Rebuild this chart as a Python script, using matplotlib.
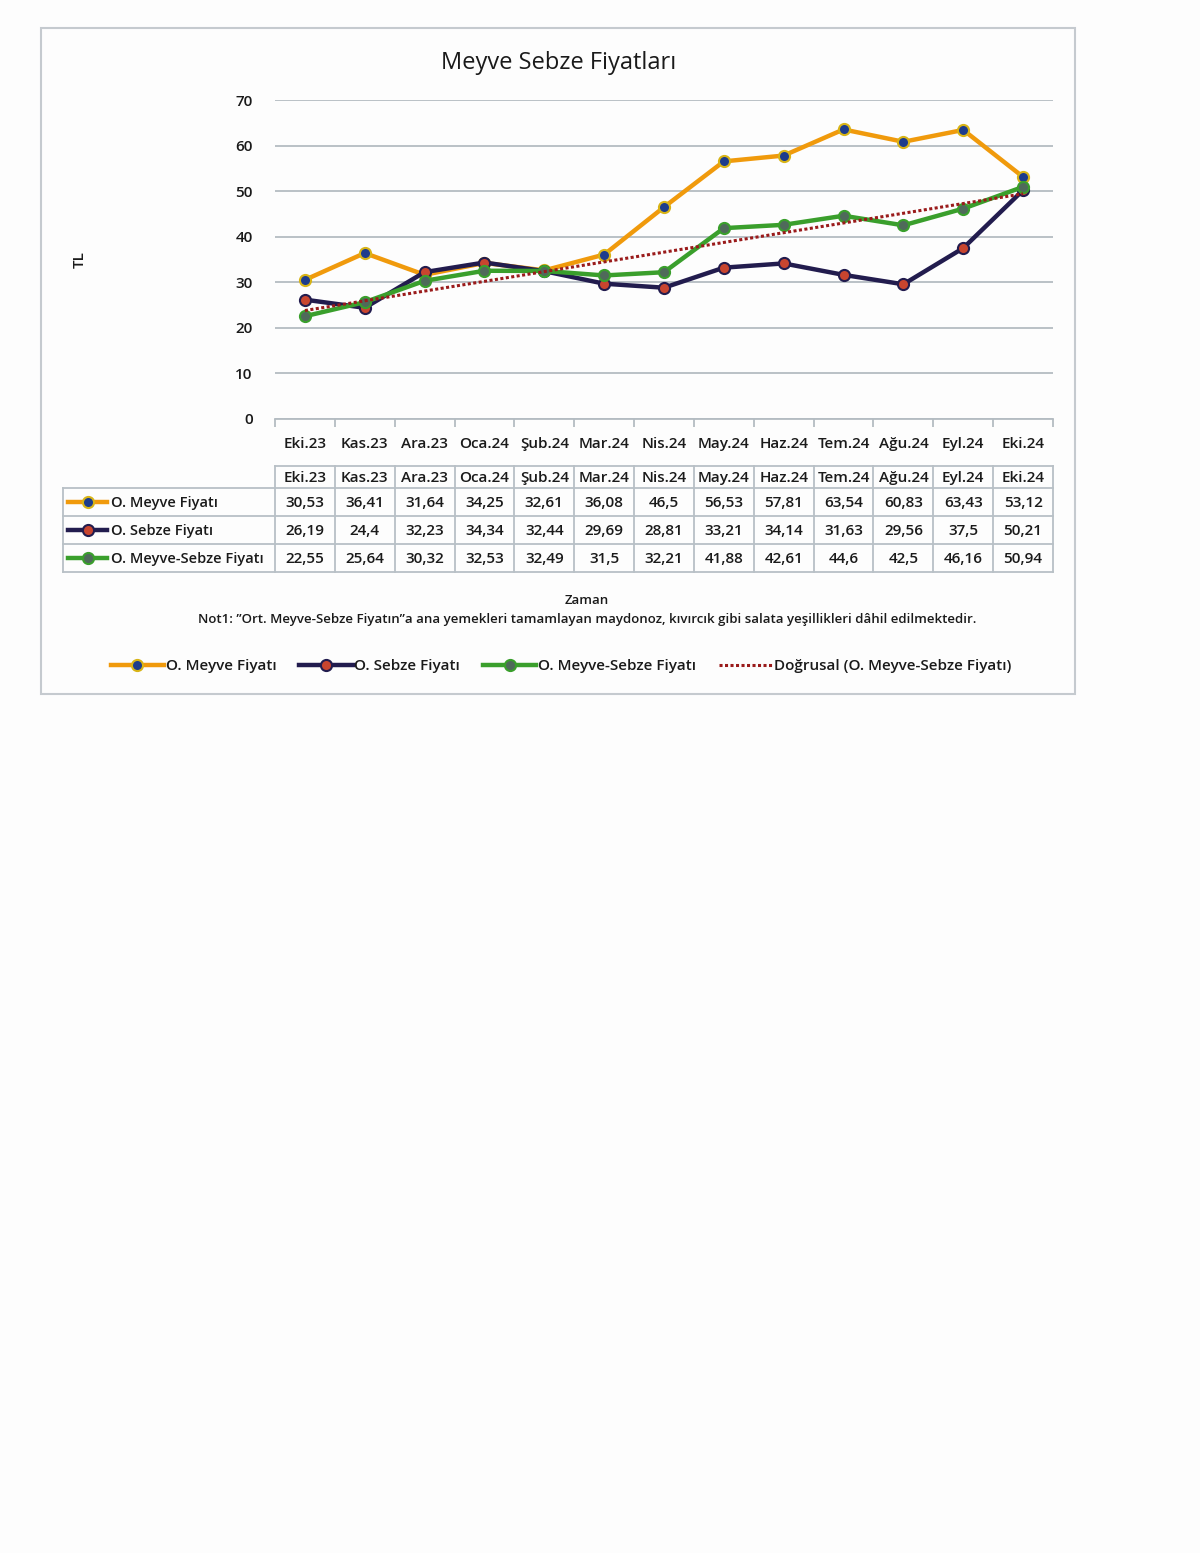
import numpy as np
import matplotlib
matplotlib.use("Agg")
import matplotlib.pyplot as plt
from matplotlib.lines import Line2D
from matplotlib.patches import Rectangle

# ---- data -------------------------------------------------------------
months = ["Eki.23", "Kas.23", "Ara.23", "Oca.24", "Şub.24", "Mar.24", "Nis.24",
          "May.24", "Haz.24", "Tem.24", "Ağu.24", "Eyl.24", "Eki.24"]
meyve = [30.53, 36.41, 31.64, 34.25, 32.61, 36.08, 46.5, 56.53, 57.81, 63.54, 60.83, 63.43, 53.12]
sebze = [26.19, 24.4, 32.23, 34.34, 32.44, 29.69, 28.81, 33.21, 34.14, 31.63, 29.56, 37.5, 50.21]
meyve_sebze = [22.55, 25.64, 30.32, 32.53, 32.49, 31.5, 32.21, 41.88, 42.61, 44.6, 42.5, 46.16, 50.94]
series_names = ["O. Meyve Fiyatı", "O. Sebze Fiyatı", "O. Meyve-Sebze Fiyatı"]
trend_name = "Doğrusal (O. Meyve-Sebze Fiyatı)"

plt.rcParams['font.family'] = ['Open Sans', 'DejaVu Sans']
plt.rcParams['font.weight'] = 'semibold'

W, H = 1200, 1553
fig = plt.figure(figsize=(W / 100, H / 100), dpi=100)
fig.patch.set_facecolor("#fdfdfd")

def fx(px):
    return px / W

def fy(py):
    return 1 - py / H

# styles: line colour, marker face, marker edge
styles = [
    ("#f09a0c", "#1d3c8c", "#d8b417"),
    ("#221c4e", "#c8452f", "#221c4e"),
    ("#3a9f2c", "#4f6a5a", "#3a9f2c"),
]
trend_color = "#9a1b1b"

# ---- overlay for frame, table, notes ----------------------------------
bg = fig.add_axes([0, 0, 1, 1])
bg.set_xlim(0, W)
bg.set_ylim(H, 0)
bg.axis("off")
bg.add_patch(Rectangle((41, 28), 1034, 666, fill=False, ec="#c5cacf", lw=1.5))

# ---- main chart --------------------------------------------------------
ax = fig.add_axes([fx(275), fy(419), fx(1053) - fx(275), fy(100) - fy(419)])
ax.set_facecolor("none")
x = np.arange(len(months))
all_series = [meyve, sebze, meyve_sebze]
for vals, name, (lc, mf, me) in zip(all_series, series_names, styles):
    ax.plot(x, vals, color=lc, lw=3.2, marker="o", ms=8, mfc=mf, mec=me,
            mew=1.5, label=name, zorder=3)

# linear trend of the combined series
k, b = np.polyfit(x, meyve_sebze, 1)
ax.plot(x, k * x + b, color=trend_color, lw=2.2, ls=(0, (1, 0.8)), label=trend_name, zorder=4)

ax.set_xlim(-0.5, len(months) - 0.5)
ax.set_ylim(0, 70)
ax.set_yticks(range(0, 71, 10))
ax.yaxis.grid(True, color="#b4bcc2", lw=1.3)
ax.set_axisbelow(True)
for s in ["top", "right", "left"]:
    ax.spines[s].set_visible(False)
ax.spines["bottom"].set_color("#b4bcc2")
ax.spines["bottom"].set_linewidth(1.3)
ax.tick_params(axis="y", length=0, pad=16, labelsize=11, labelcolor="#1a1a1a")
ax.set_xticks(np.arange(-0.5, len(months), 1.0))
ax.set_xticklabels([])
ax.set_xticks(x, minor=True)
ax.set_xticklabels(months, minor=True, fontsize=11, color="#1a1a1a")
ax.tick_params(axis="x", which="major", length=6, color="#b4bcc2", width=1.3)
ax.tick_params(axis="x", which="minor", length=0, pad=13)
ax.set_title("Meyve Sebze Fiyatları", fontsize=17, color="#1a1a1a", pad=22, x=0.365,
             fontweight="normal")
fig.text(fx(80), fy(260), "TL", rotation=90, ha="center", va="center", fontsize=11,
         color="#1a1a1a")

# ---- data table --------------------------------------------------------
x0, x1 = 275, 1053
cw = (x1 - x0) / len(months)
hy0, hy1 = 466, 488
rows_y = [488, 516, 544, 572]
grid_c = "#b8c0c6"
tcol = "#1a1a1a"

bg.plot([x0, x1], [hy0, hy0], color=grid_c, lw=1.3)
bg.plot([63, x1], [hy1, hy1], color=grid_c, lw=1.3)
for yy in rows_y[1:]:
    bg.plot([63, x1], [yy, yy], color=grid_c, lw=1.3)
bg.plot([63, 63], [hy1, rows_y[-1]], color=grid_c, lw=1.3)
for i in range(len(months) + 1):
    bg.plot([x0 + i * cw] * 2, [hy0, rows_y[-1]], color=grid_c, lw=1.3)

for i, m in enumerate(months):
    bg.text(x0 + (i + 0.5) * cw, (hy0 + hy1) / 2 + 1, m, ha="center", va="center",
            fontsize=11, color=tcol)

for r, (vals, name, (lc, mf, me)) in enumerate(zip(all_series, series_names, styles)):
    yc = (rows_y[r] + rows_y[r + 1]) / 2
    bg.add_line(Line2D([68, 107], [yc, yc], color=lc, lw=3.2))
    bg.add_line(Line2D([87.5], [yc], marker="o", ms=8, mfc=mf, mec=me, mew=1.5))
    bg.text(111, yc + 1, name, ha="left", va="center", fontsize=10.5, color=tcol)
    for i, v in enumerate(vals):
        txt = ("%g" % v).replace(".", ",")
        bg.text(x0 + (i + 0.5) * cw, yc + 1, txt, ha="center", va="center",
                fontsize=11, color=tcol)

# ---- notes -------------------------------------------------------------
bg.text(587, 601, "Zaman", ha="center", va="center", fontsize=9.5, color=tcol)
bg.text(587, 620, "Not1: \u201dOrt. Meyve-Sebze Fiyatın\u201da ana yemekleri tamamlayan maydonoz, "
        "kıvırcık gibi salata yeşillikleri dâhil edilmektedir.",
        ha="center", va="center", fontsize=9.5, color=tcol)

# ---- legend ------------------------------------------------------------
handles, labels = ax.get_legend_handles_labels()
fig.legend(handles, labels, loc="center", bbox_to_anchor=(fx(561), fy(666)), ncol=4,
           frameon=False, fontsize=11, handlelength=3.5, columnspacing=1.5,
           handletextpad=0.1, labelcolor=tcol)

fig.savefig("out.png", dpi=100, facecolor=fig.get_facecolor())
